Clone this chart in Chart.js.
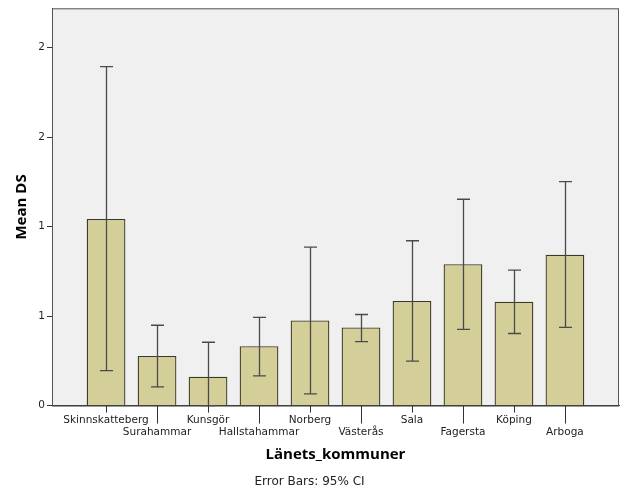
<!DOCTYPE html>
<html>
<head>
<meta charset="utf-8">
<script src="https://cdn.jsdelivr.net/npm/chart.js@4"></script>
<style>
  html, body { margin: 0; padding: 0; background: #fff; }
  #wrap { width: 626px; height: 501px; }
</style>
</head>
<body>
<div id="wrap"><canvas id="chart" width="626" height="501"></canvas></div>
<script>
const kommuner = ['Skinnskatteberg', 'Surahammar', 'Kunsgör', 'Hallstahammar', 'Norberg',
  'Västerås', 'Sala', 'Fagersta', 'Köping', 'Arboga'];
const meanDS = [1.043, 0.277, 0.161, 0.332, 0.476, 0.436, 0.585, 0.790, 0.580, 0.843];
const ciLow = [0.195, 0.105, 0.0, 0.166, 0.066, 0.358, 0.249, 0.426, 0.403, 0.437];
const ciHigh = [1.894, 0.449, 0.354, 0.493, 0.886, 0.509, 0.921, 1.153, 0.757, 1.251];
const yTickValues = [0, 0.5, 1, 1.5, 2];
const yTickLabels = ['0', '1', '1', '2', '2'];

const fontFam = '"DejaVu Sans", sans-serif';
const titleFam = '"Open Sans", sans-serif';

// plot background + frame + x tick marks (short / long for 2nd row)
const plotFrame = {
  id: 'plotFrame',
  beforeDraw(chart) {
    const { ctx, chartArea: a } = chart;
    ctx.save();
    ctx.fillStyle = '#f0f0f0';
    ctx.fillRect(a.left, a.top, a.right - a.left, a.bottom - a.top);
    ctx.restore();
  },
  afterDraw(chart) {
    const { ctx, chartArea: a } = chart;
    const x = chart.scales.x;
    ctx.save();
    ctx.strokeStyle = '#555';
    ctx.lineWidth = 1;
    ctx.strokeRect(a.left + 0.5, a.top + 0.5, a.right - a.left - 1, a.bottom - a.top);
    ctx.strokeStyle = '#333';
    kommuner.forEach((k, i) => {
      const px = Math.round(x.getPixelForValue(i)) + 0.5;
      ctx.beginPath();
      ctx.moveTo(px, a.bottom);
      ctx.lineTo(px, a.bottom + (i % 2 === 1 ? 18 : 7));
      ctx.stroke();
    });
    ctx.restore();
  }
};

// 95% CI error bars
const errorBars = {
  id: 'errorBars',
  afterDatasetsDraw(chart) {
    const { ctx } = chart;
    const y = chart.scales.y;
    const meta = chart.getDatasetMeta(0);
    ctx.save();
    ctx.strokeStyle = '#4a4a4a';
    ctx.lineWidth = 1.3;
    meta.data.forEach((bar, i) => {
      const px = Math.round(bar.x) + 0.5;
      const yl = y.getPixelForValue(ciLow[i]);
      const yh = y.getPixelForValue(ciHigh[i]);
      ctx.beginPath();
      ctx.moveTo(px, yl);
      ctx.lineTo(px, yh);
      ctx.moveTo(px - 6.5, yh);
      ctx.lineTo(px + 6.5, yh);
      ctx.moveTo(px - 6.5, yl);
      ctx.lineTo(px + 6.5, yl);
      ctx.stroke();
    });
    ctx.restore();
  }
};

new Chart(document.getElementById('chart'), {
  type: 'bar',
  data: {
    datasets: [{
      label: 'Mean DS',
      data: meanDS.map((v, i) => ({ x: i, y: v })),
      backgroundColor: '#d4cf98',
      borderColor: '#3a3826',
      borderWidth: 1.3,
      barPercentage: 0.76,
      categoryPercentage: 1
    }]
  },
  options: {
    responsive: false,
    animation: false,
    layout: { padding: { left: 0, top: 5, right: 7, bottom: 4 } },
    plugins: {
      legend: { display: false },
      tooltip: { enabled: false },
      subtitle: {
        display: true,
        position: 'bottom',
        text: 'Error Bars: 95% CI',
        color: '#222',
        font: { family: fontFam, size: 12 },
        padding: { top: 5, bottom: 8 }
      }
    },
    scales: {
      x: {
        type: 'linear',
        min: -1.06,
        max: 10.06,
        offset: false,
        afterBuildTicks(scale) {
          scale.ticks = kommuner.map((k, i) => ({ value: i }));
        },
        afterFit(scale) { scale.height = 64; },
        grid: { offset: false, drawOnChartArea: false, tickLength: 7, tickColor: 'rgba(0,0,0,0)' },
        border: { color: '#333' },
        ticks: {
          autoSkip: false,
          maxRotation: 0,
          padding: 1,
          color: '#222',
          font: { family: fontFam, size: 10.5, lineHeight: 1.2 },
          callback: (v, i) => (i % 2 === 1 ? ['', kommuner[i]] : kommuner[i])
        },
        title: {
          display: true,
          text: 'Länets_kommuner',
          color: '#000',
          font: { family: titleFam, size: 15, weight: 'bold' },
          padding: { top: 0, bottom: 6 }
        }
      },
      y: {
        min: 0,
        max: 2.22,
        afterBuildTicks(scale) {
          scale.ticks = yTickValues.map(v => ({ value: v }));
        },
        afterFit(scale) { scale.width = 52; },
        grid: { drawOnChartArea: false, tickLength: 5, tickColor: '#333' },
        border: { color: '#333' },
        ticks: {
          padding: 2,
          color: '#222',
          font: { family: fontFam, size: 10.5 },
          callback: (v, i) => yTickLabels[i]
        },
        title: {
          display: true,
          text: 'Mean DS',
          color: '#000',
          font: { family: titleFam, size: 15, weight: 'bold' },
          padding: { top: 13, bottom: 0 }
        }
      }
    }
  },
  plugins: [plotFrame, errorBars]
});
</script>
</body>
</html>
